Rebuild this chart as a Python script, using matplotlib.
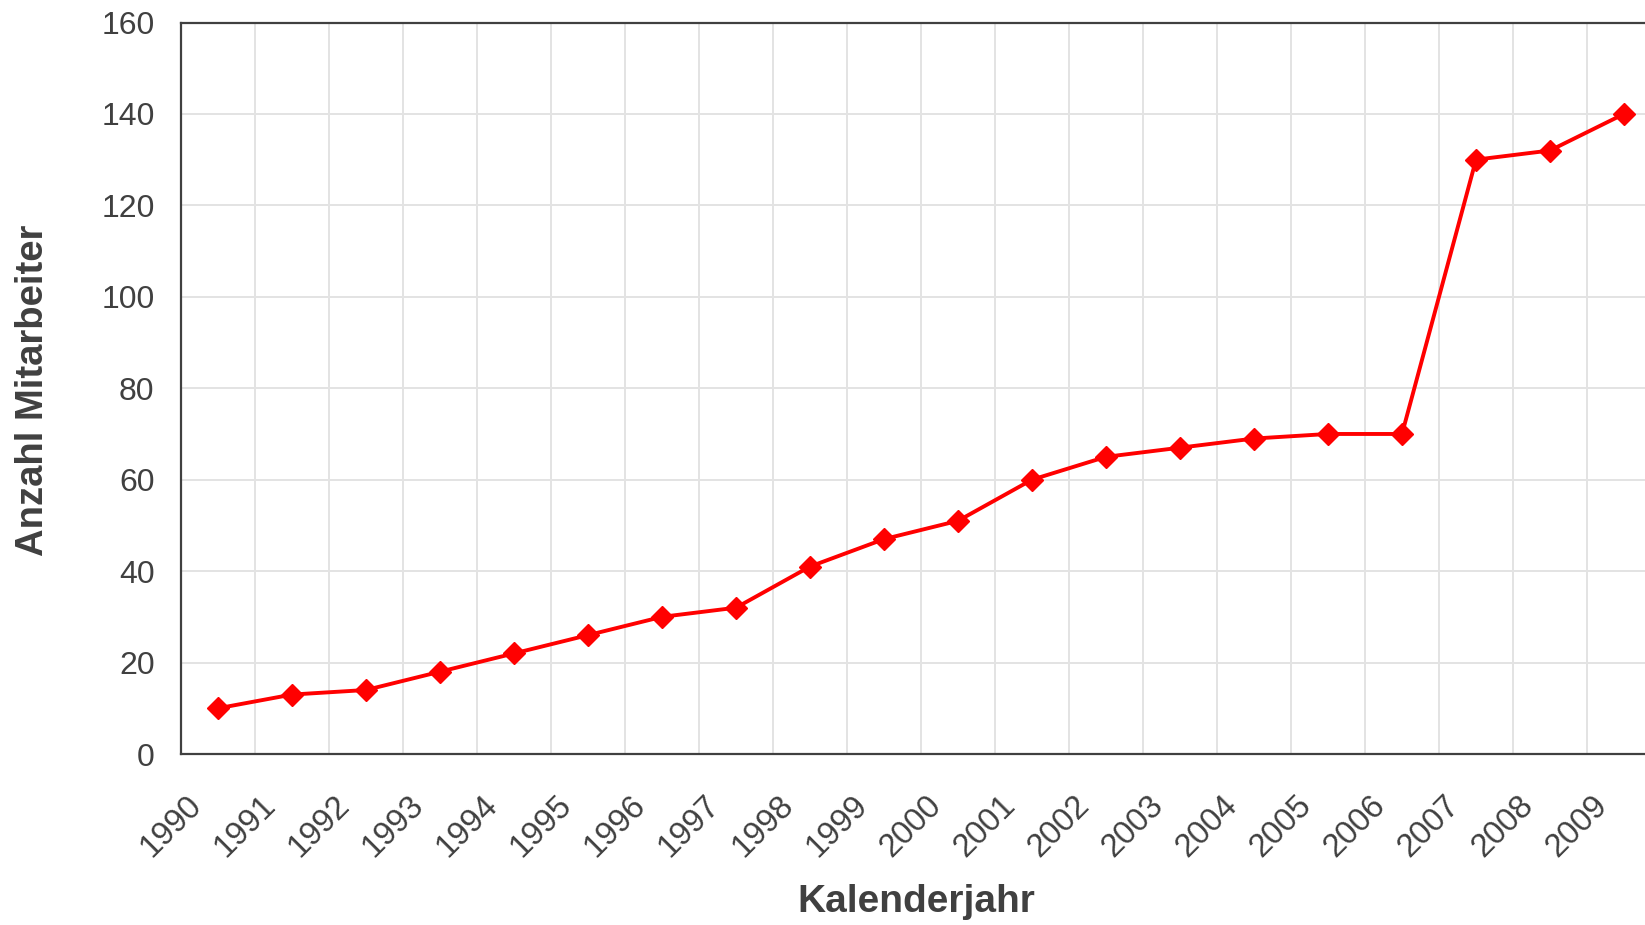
import matplotlib.pyplot as plt
import matplotlib.transforms as mtransforms
import numpy as np

# Daten
years = ['1990', '1991', '1992', '1993', '1994', '1995', '1996', '1997', '1998', '1999',
         '2000', '2001', '2002', '2003', '2004', '2005', '2006', '2007', '2008', '2009']
mitarbeiter = [10, 13, 14, 18, 22, 26, 30, 32, 41, 47,
               51, 60, 65, 67, 69, 70, 70, 130, 132, 140]
y_ticks = [0, 20, 40, 60, 80, 100, 120, 140, 160]

plt.rcParams['font.family'] = ['Liberation Sans', 'DejaVu Sans']
text_color = '#404040'

fig = plt.figure(figsize=(16.45, 9.25), dpi=100)
# Achse geht rechts etwas ueber den Bildrand hinaus (wie im Original)
ax = fig.add_axes([181/1645, 1-754/925, 1480/1645, 731.5/925])

x_pos = np.arange(len(years)) + 0.5
ax.plot(x_pos, mitarbeiter,
        color='#ff0000',
        linewidth=2.8,
        marker='D',
        markersize=11.5,
        markeredgewidth=1,
        markeredgecolor='#ff0000',
        zorder=3)

ax.set_xlim(0, len(years))
ax.set_ylim(0, 160)

# Gitter
for gx in range(1, len(years)):
    ax.axvline(gx, color='#e3e3e3', linewidth=1.4, zorder=0)
for gy in y_ticks[1:]:
    ax.axhline(gy, color='#e3e3e3', linewidth=1.4, zorder=0)

ax.set_yticks(y_ticks)
ax.set_yticklabels([str(v) for v in y_ticks])
ax.set_xticks(x_pos)
ax.set_xticklabels(years, rotation=45, ha='right', va='center',
                   rotation_mode='anchor')

ax.tick_params(axis='y', length=0, pad=19, labelsize=23, labelcolor=text_color)
ax.tick_params(axis='x', length=0, pad=0, labelsize=23.5, labelcolor=text_color)

offset = mtransforms.ScaledTranslation(-0.21, -0.47, fig.dpi_scale_trans)
for lbl in ax.get_xticklabels():
    lbl.set_transform(lbl.get_transform() + offset)

for side in ['left', 'bottom', 'top']:
    ax.spines[side].set_color(text_color)
    ax.spines[side].set_linewidth(1.6)
ax.spines['right'].set_visible(False)

fig.text(916/1645, 1-902/925, 'Kalenderjahr',
         ha='center', va='center', fontsize=28, fontweight='bold', color=text_color)
fig.text(33/1645, 1-390/925, 'Anzahl Mitarbeiter', rotation=90,
         ha='center', va='center', fontsize=27.5, fontweight='bold', color=text_color)

fig.savefig('out.png', dpi=100)
